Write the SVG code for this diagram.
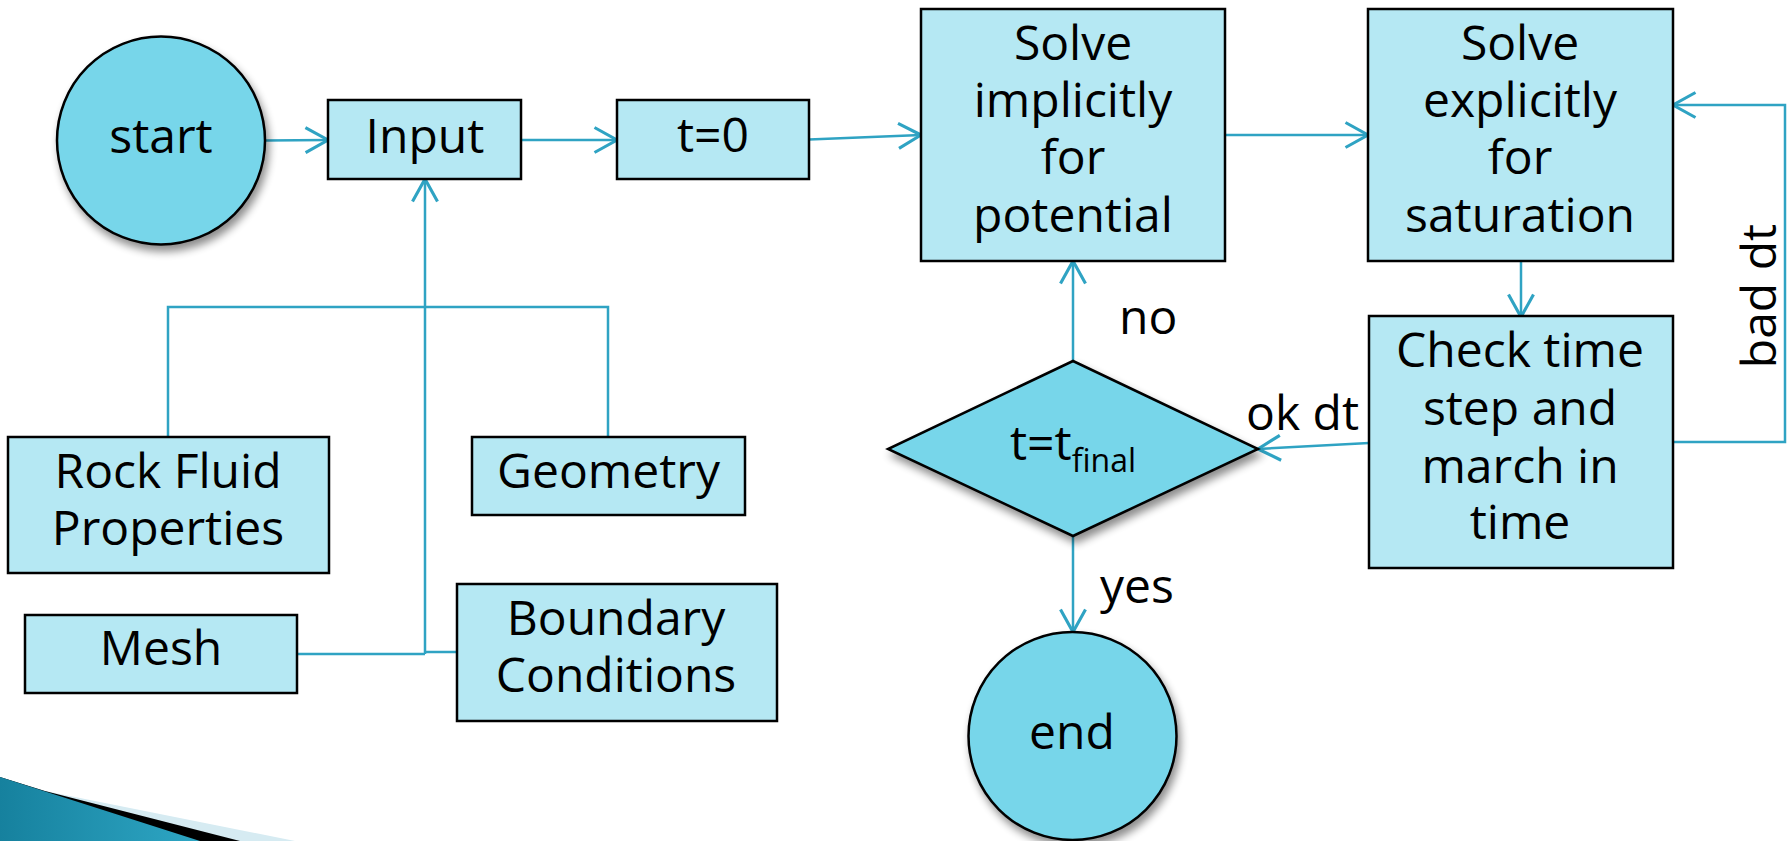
<svg xmlns="http://www.w3.org/2000/svg" width="1792" height="841" viewBox="0 0 1792 841">
<style>
  .box { fill: #b5e8f3; stroke: #000; stroke-width: 2.5; }
  .term { fill: #77d6ea; stroke: #000; stroke-width: 2.5; filter: url(#shadow); }
  .lbl { font-family: "Open Sans", "Liberation Sans", sans-serif; font-size: 48px; fill: #000; text-anchor: middle; }
  .edge { font-family: "Open Sans", "Liberation Sans", sans-serif; font-size: 48px; fill: #000; }
  .conn { fill: none; stroke: #2fa3c3; stroke-width: 2.5; }
  .arr { marker-end: url(#arrow); }
</style>
<defs>
  <marker id="arrow" markerUnits="userSpaceOnUse" markerWidth="30" markerHeight="30" viewBox="-20 -12 22 24" refX="0" refY="0" orient="auto">
    <path d="M -18 -10 L 0 0 L -18 10" fill="none" stroke="#2fa3c3" stroke-width="2.5"/>
  </marker>
  <filter id="shadow" x="-20%" y="-20%" width="150%" height="150%">
    <feGaussianBlur in="SourceAlpha" stdDeviation="4"/>
    <feOffset dx="3" dy="6" result="b"/>
    <feComponentTransfer><feFuncA type="linear" slope="0.45"/></feComponentTransfer>
    <feMerge><feMergeNode/><feMergeNode in="SourceGraphic"/></feMerge>
  </filter>
  <linearGradient id="teal" x1="0" y1="0" x2="1" y2="0">
    <stop offset="0" stop-color="#16819e"/>
    <stop offset="1" stop-color="#2ea6c4"/>
  </linearGradient>
</defs>

<g id="decoration">
  <polygon points="0,777 45,791 295,841 0,841" fill="#d6ebf2"/>
  <polygon points="0,777 45,791 240,841 0,841" fill="#000"/>
  <polygon points="0,777 200,841 0,841" fill="url(#teal)"/>
</g>

<g id="connectors">
  <path class="conn arr" d="M265,140.5 L328,140"/>
  <path class="conn arr" d="M521,140 L617,140"/>
  <path class="conn arr" d="M809,139.5 L921,135"/>
  <path class="conn arr" d="M1225,135 L1368,135"/>
  <path class="conn arr" d="M1521,261 L1521,317"/>
  <path class="conn arr" d="M1369,443 L1258,449"/>
  <path class="conn arr" d="M1673,442 L1785,442 L1785,105 L1673,105"/>
  <path class="conn arr" d="M1073,361 L1073,261"/>
  <path class="conn arr" d="M1073,536 L1073,632"/>
  <path class="conn" d="M168,437 L168,307 L608,307 L608,437"/>
  <path class="conn arr" d="M425,654 L425,179"/>
  <path class="conn" d="M297,654 L425,654"/>
  <path class="conn" d="M457,652 L425,652"/>
  <text class="edge" x="1119" y="334">no</text>
  <text class="edge" x="1246" y="430">ok dt</text>
  <text class="edge" x="1100" y="603">yes</text>
  <text class="lbl" transform="translate(1776,296) rotate(-90)">bad dt</text>
</g>

<g id="start">
  <circle class="term" cx="161" cy="140.5" r="104"/>
  <text class="lbl" x="161" y="153">start</text>
</g>

<g id="input">
  <rect class="box" x="328" y="100" width="193" height="79"/>
  <text class="lbl" x="425" y="153">Input</text>
</g>

<g id="t0">
  <rect class="box" x="617" y="100" width="192" height="79"/>
  <text class="lbl" x="713" y="152">t=0</text>
</g>

<g id="solve-implicit">
  <rect class="box" x="921" y="9" width="304" height="252"/>
  <text class="lbl" x="1073" y="60">Solve</text>
  <text class="lbl" x="1073" y="117">implicitly</text>
  <text class="lbl" x="1073" y="174">for</text>
  <text class="lbl" x="1073" y="232">potential</text>
</g>

<g id="solve-explicit">
  <rect class="box" x="1368" y="9" width="305" height="252"/>
  <text class="lbl" x="1520" y="60">Solve</text>
  <text class="lbl" x="1520" y="117">explicitly</text>
  <text class="lbl" x="1520" y="174">for</text>
  <text class="lbl" x="1520" y="232">saturation</text>
</g>

<g id="check-time">
  <rect class="box" x="1369" y="316" width="304" height="252"/>
  <text class="lbl" x="1520" y="367">Check time</text>
  <text class="lbl" x="1520" y="425">step and</text>
  <text class="lbl" x="1520" y="483">march in</text>
  <text class="lbl" x="1520" y="539">time</text>
</g>

<g id="decision">
  <polygon class="term" points="1073,361 1258,449 1073,536 888,449"/>
  <text class="lbl" x="1073" y="460">t=t<tspan font-size="32" dy="12">final</tspan></text>
</g>

<g id="end">
  <circle class="term" cx="1072.5" cy="736" r="104"/>
  <text class="lbl" x="1072" y="749">end</text>
</g>

<g id="rock-fluid">
  <rect class="box" x="8" y="437" width="321" height="136"/>
  <text class="lbl" x="168" y="488">Rock Fluid</text>
  <text class="lbl" x="168" y="545">Properties</text>
</g>

<g id="geometry">
  <rect class="box" x="472" y="437" width="273" height="78"/>
  <text class="lbl" x="608.5" y="488">Geometry</text>
</g>

<g id="mesh">
  <rect class="box" x="25" y="615" width="272" height="78"/>
  <text class="lbl" x="161" y="665">Mesh</text>
</g>

<g id="boundary">
  <rect class="box" x="457" y="584" width="320" height="137"/>
  <text class="lbl" x="616" y="635">Boundary</text>
  <text class="lbl" x="616" y="692">Conditions</text>
</g>
</svg>
